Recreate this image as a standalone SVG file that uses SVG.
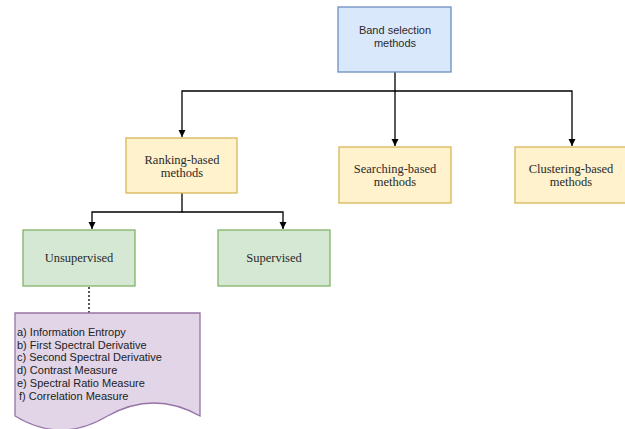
<svg xmlns="http://www.w3.org/2000/svg" width="625" height="429" viewBox="0 0 625 429">
<defs>
<marker id="arr" markerWidth="8" markerHeight="8" refX="7" refY="4" orient="auto" markerUnits="userSpaceOnUse">
<path d="M0,0.5 L7,4 L0,7.5 Z" fill="#000"/>
</marker>
<style>
.blue{fill:#dae8fc;stroke:#6c8ebf;stroke-width:1.3}
.yel{fill:#fff2cc;stroke:#d6b656;stroke-width:1.3}
.grn{fill:#d5e8d4;stroke:#82b366;stroke-width:1.3}
.pur{fill:#e1d5e7;stroke:#9673a6;stroke-width:1.3}
.ser{font-family:"Liberation Serif","Times New Roman",serif;font-size:12.5px;fill:#2a2a2a;text-anchor:middle}
.san{font-family:"Liberation Sans",Arial,sans-serif;font-size:11px;fill:#2a2a2a;text-anchor:middle}
.lst{font-family:"Liberation Sans",Arial,sans-serif;font-size:11px;fill:#222}
.con{fill:none;stroke:#000;stroke-width:1.3}
</style>
</defs>
<rect width="625" height="429" fill="#fff"/>
<g id="connectors">
<path class="con" d="M395,72 V91 H182 V137" marker-end="url(#arr)"/>
<path class="con" d="M395,91 V146" marker-end="url(#arr)"/>
<path class="con" d="M395,91 H572 V146" marker-end="url(#arr)"/>
<path class="con" d="M182,193 V212 H92 V229" marker-end="url(#arr)"/>
<path class="con" d="M182,212 H283 V229" marker-end="url(#arr)"/>
<path class="con" d="M89,287 V313" stroke-dasharray="2,2"/>
</g>
<g id="band">
<rect class="blue" x="338" y="7" width="113" height="65"/>
<text class="san" x="395" y="34">Band selection</text>
<text class="san" x="395" y="47">methods</text>
</g>
<g id="ranking">
<rect class="yel" x="126" y="138" width="111" height="55"/>
<text class="ser" x="182" y="164">Ranking-based</text>
<text class="ser" x="182" y="177">methods</text>
</g>
<g id="searching">
<rect class="yel" x="339" y="147" width="112" height="56"/>
<text class="ser" x="395" y="173">Searching-based</text>
<text class="ser" x="395" y="186">methods</text>
</g>
<g id="clustering">
<rect class="yel" x="515" y="147" width="114" height="56"/>
<text class="ser" x="571" y="173">Clustering-based</text>
<text class="ser" x="571" y="186">methods</text>
</g>
<g id="unsupervised">
<rect class="grn" x="23" y="230" width="112" height="56"/>
<text class="ser" x="79" y="262">Unsupervised</text>
</g>
<g id="supervised">
<rect class="grn" x="218" y="230" width="112" height="56"/>
<text class="ser" x="274" y="262">Supervised</text>
</g>
<g id="list">
<path class="pur" d="M15,313 H200 V416 Q154,390 107.5,416 Q61,444 15,416 Z"/>
<text class="lst" x="17" y="336">a)  Information Entropy</text>
<text class="lst" x="17" y="349">b)  First Spectral Derivative</text>
<text class="lst" x="17" y="361">c) Second Spectral Derivative</text>
<text class="lst" x="17" y="374">d) Contrast Measure</text>
<text class="lst" x="17" y="387">e) Spectral Ratio Measure</text>
<text class="lst" x="19" y="400">f) Correlation Measure</text>
</g>
</svg>
